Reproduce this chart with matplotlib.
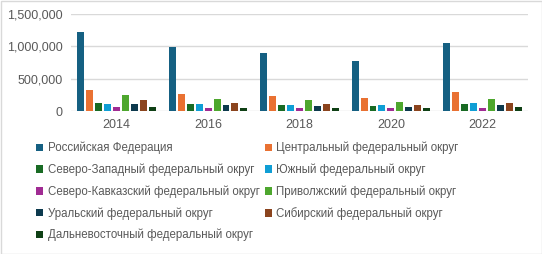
import numpy as np
import matplotlib.pyplot as plt
from matplotlib.patches import Patch, Rectangle
from matplotlib.ticker import FuncFormatter

# Values
years = ['2014', '2016', '2018', '2020', '2022']
districts = ['Российская Федерация', 'Центральный федеральный округ',
             'Северо-Западный федеральный округ', 'Южный федеральный округ',
             'Северо-Кавказский федеральный округ', 'Приволжский федеральный округ',
             'Уральский федеральный округ', 'Сибирский федеральный округ',
             'Дальневосточный федеральный округ']
rf = [1223000, 991000, 898000, 774000, 1053000]
central = [325000, 263000, 232000, 201000, 294000]
northwest = [124000, 108000, 93000, 77000, 108000]
south = [108000, 108000, 93000, 93000, 124000]
ncaucasus = [62000, 46000, 46000, 46000, 46000]
volga = [248000, 186000, 170000, 139000, 186000]
ural = [108000, 93000, 77000, 62000, 93000]
siberia = [170000, 124000, 108000, 93000, 124000]
fareast = [62000, 46000, 46000, 46000, 62000]
series = [rf, central, northwest, south, ncaucasus, volga, ural, siberia, fareast]
colors = ['#156082', '#E97132', '#196B24', '#0F9ED5', '#A02B93',
          '#4EA72E', '#0D3A4E', '#8B441E', '#0F4015']

plt.rcParams['font.family'] = 'Liberation Sans'
text_color = '#595959'

fig = plt.figure(figsize=(5.42, 2.54), dpi=100)
ax = fig.add_axes([71/542, 143/254, 457/542, 97/254])

x = np.arange(len(years))
pitch = 9 / 92
width = 7 / 92
for j, (vals, c) in enumerate(zip(series, colors)):
    ax.bar(x + (j - 4) * pitch, vals, width=width, color=c, zorder=3)

ax.set_xlim(-0.5, len(years) - 0.5)
ax.set_ylim(0, 1500000)
ax.set_yticks([0, 500000, 1000000, 1500000])
ax.yaxis.set_major_formatter(FuncFormatter(lambda v, p: f'{int(v):,}'))
ax.set_xticks(x)
ax.set_xticklabels(years)
ax.grid(axis='y', color='#D9D9D9', linewidth=1, zorder=0)
for s in ax.spines.values():
    s.set_visible(False)
ax.tick_params(length=0, labelsize=9, colors=text_color, pad=6)

# legend filled row by row, as in the reference
order = [0, 2, 4, 6, 8, 1, 3, 5, 7]
handles = [Patch(facecolor=colors[i]) for i in order]
labels = [districts[i] for i in order]
fig.legend(handles, labels, ncol=2, loc='upper left',
           bbox_to_anchor=(36/542, 1 - 142/254), frameon=False,
           fontsize=8.3, labelcolor=text_color, handlelength=0.6, handleheight=0.6,
           handletextpad=0.4, columnspacing=0.45, labelspacing=0.8,
           borderaxespad=0, borderpad=0)

fig.add_artist(Rectangle((0.5/542, 0.5/254), 1 - 1/542, 1 - 1/254,
                         transform=fig.transFigure, fill=False,
                         edgecolor='#D9D9D9', linewidth=1))

fig.savefig('out.png', dpi=100)
